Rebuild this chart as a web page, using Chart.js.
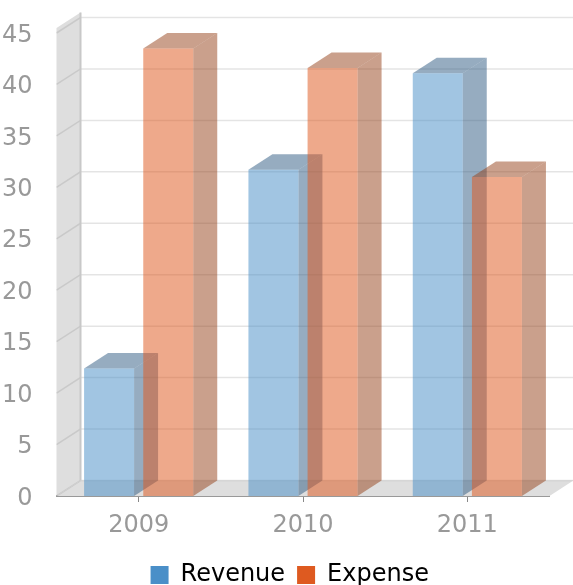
<!DOCTYPE html>
<html>
<head>
<meta charset="utf-8">
<style>
  html, body { margin: 0; padding: 0; background: #fff; }
  #wrap { width: 573px; height: 585px; filter: blur(0.5px); }
</style>
<script src="https://cdn.jsdelivr.net/npm/chart.js@4.4.7/dist/chart.umd.min.js"></script>
</head>
<body>
<div id="wrap"><canvas id="chart"></canvas></div>
<script>
const years = ["2009", "2010", "2011"];
const revenue = [12.4, 31.7, 41.1];
const expense = [43.5, 41.6, 31];
const yTicks = [0, 5, 10, 15, 20, 25, 30, 35, 40, 45];

// how far the "back" of the fake 3d box sits from the front plane
const depthX = 24;
const depthY = -15.5;

const sideColors = ["rgba(45,90,130,0.5)", "rgba(150,65,25,0.5)"];

function polygon(ctx, points, fill) {
  ctx.fillStyle = fill;
  ctx.beginPath();
  points.forEach((p, i) => (i ? ctx.lineTo(p[0], p[1]) : ctx.moveTo(p[0], p[1])));
  ctx.closePath();
  ctx.fill();
}

function drawBarSides(chart, index) {
  const { ctx } = chart;
  chart.getDatasetMeta(index).data.forEach((bar) => {
    const props = bar.getProps(["x", "y", "base", "width"], true);
    const left = props.x - props.width / 2;
    const right = props.x + props.width / 2;
    polygon(ctx, [[left, props.y], [left + depthX, props.y + depthY],
      [right + depthX, props.y + depthY], [right, props.y]], sideColors[index]);
    polygon(ctx, [[right, props.y], [right + depthX, props.y + depthY],
      [right + depthX, props.base + depthY], [right, props.base]], sideColors[index]);
  });
}

const box3d = {
  id: "box3d",
  afterLayout(chart) {
    // legend is centred on the whole picture, not on the padded box
    chart.legend.left += 15;
    chart.legend.right += 15;
    chart.legend.top += 12;
    chart.legend.bottom += 12;
  },
  beforeDatasetsDraw(chart) {
    const { ctx, chartArea: area, scales: { y } } = chart;
    const zero = y.getPixelForValue(0);
    ctx.save();
    // left wall and floor
    polygon(ctx, [[area.left, y.top - 5], [area.left + depthX, y.top - 5 + depthY],
      [area.left + depthX, zero + depthY], [area.left, zero]], "#dedede");
    polygon(ctx, [[area.left, zero], [area.left + depthX, zero + depthY],
      [area.right + depthX, zero + depthY], [area.right, zero]], "#dedede");
    // gridlines run over the wall and along the back
    ctx.lineWidth = 1.5;
    ctx.strokeStyle = "rgba(120,120,120,0.2)";
    yTicks.forEach((tick) => {
      const py = y.getPixelForValue(tick);
      ctx.beginPath();
      ctx.moveTo(area.left, py);
      ctx.lineTo(area.left + depthX, py + depthY);
      ctx.lineTo(area.right + depthX, py + depthY);
      ctx.stroke();
    });
    ctx.strokeStyle = "#c8c8c8";
    ctx.lineWidth = 2;
    ctx.beginPath();
    ctx.moveTo(area.left + depthX, y.top - 5 + depthY);
    ctx.lineTo(area.left + depthX, zero + depthY);
    ctx.stroke();
    ctx.restore();
    // chart.js paints the first dataset last, here Expense has to end up on top
    [0, 1].forEach((index) => {
      ctx.save();
      drawBarSides(chart, index);
      chart.getDatasetMeta(index).controller.draw();
      ctx.restore();
    });
  },
  beforeDatasetDraw() {
    return false;
  },
};

new Chart(document.querySelector("#chart"), {
  type: "bar",
  plugins: [box3d],
  data: {
    labels: years,
    datasets: [
      { label: "Revenue", data: revenue, backgroundColor: "rgba(74,143,200,0.52)" },
      { label: "Expense", data: expense, backgroundColor: "rgba(222,90,32,0.52)" },
    ],
  },
  options: {
    responsive: true,
    maintainAspectRatio: false,
    animation: false,
    categoryPercentage: 0.72,
    barPercentage: 0.845,
    layout: { padding: { top: 33, right: 23.5, left: 0, bottom: 0 } },
    plugins: {
      tooltip: { enabled: false },
      legend: {
        position: "bottom",
        labels: {
          boxWidth: 18,
          boxHeight: 18,
          padding: 12,
          color: "#555555",
          font: { family: "DejaVu Sans", size: 24 },
          generateLabels() {
            return [
              { text: "Revenue", fillStyle: "#4a8fc8", strokeStyle: "#4a8fc8", lineWidth: 0, datasetIndex: 0 },
              { text: "Expense", fillStyle: "#de5a20", strokeStyle: "#de5a20", lineWidth: 0, datasetIndex: 1 },
            ];
          },
        },
      },
    },
    scales: {
      x: {
        afterFit(scale) { scale.height = 43; },
        border: { color: "#999999", width: 2 },
        grid: { offset: false, drawOnChartArea: false, color: "#888888", tickLength: 6, lineWidth: 1 },
        ticks: { color: "#999999", padding: 9, font: { family: "DejaVu Sans", size: 24 } },
      },
      y: {
        min: 0,
        max: 45,
        afterFit(scale) { scale.width = 56.5; },
        afterBuildTicks(scale) { scale.ticks = yTicks.map((value) => ({ value })); },
        border: { display: false },
        grid: { display: false },
        ticks: {
          color: "#999999",
          padding: 16,
          // empty first line + tiny lineHeight nudges the labels down a bit
          callback: (value) => ["", String(value)],
          font: { family: "DejaVu Sans", size: 24, lineHeight: 0.2 },
        },
      },
    },
  },
});
</script>
</body>
</html>
